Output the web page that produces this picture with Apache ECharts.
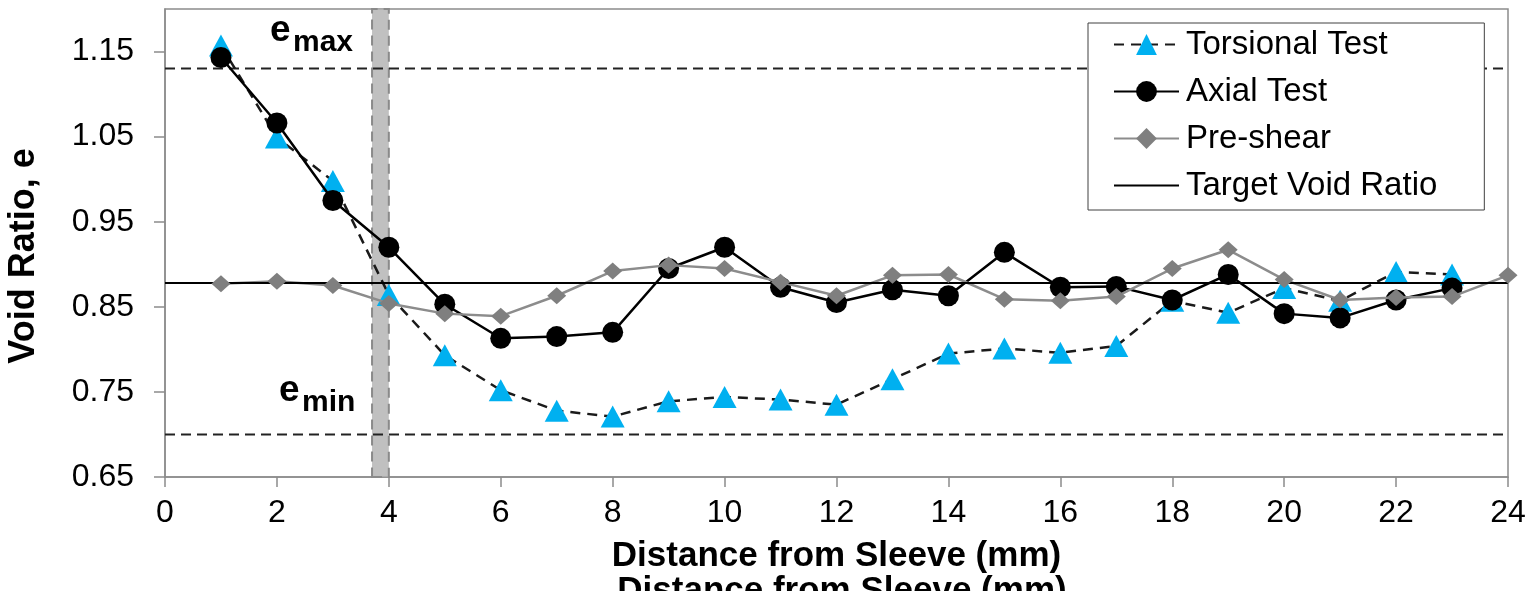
<!DOCTYPE html>
<html>
<head>
<meta charset="utf-8">
<script src="https://cdn.jsdelivr.net/npm/echarts@6/dist/echarts.min.js"></script>
<style>
html,body{margin:0;padding:0;background:#fff;}
#chart{width:1529px;height:591px;}
</style>
</head>
<body>
<div id="chart"></div>
<script>
// ---- data ----
const distance = [1,2,3,4,5,6,7,8,9,10,11,12,13,14,15,16,17,18,19,20,21,22,23];
const distancePre = [1,2,3,4,5,6,7,8,9,10,11,12,13,14,15,16,17,18,19,20,21,22,23,24];
const torsional = [1.157,1.049,0.998,0.864,0.793,0.752,0.728,0.721,0.739,0.744,0.741,0.735,0.765,0.795,0.801,0.796,0.804,0.857,0.843,0.872,0.857,0.891,0.888];
const axial = [1.143,1.066,0.975,0.920,0.853,0.813,0.815,0.820,0.895,0.920,0.873,0.855,0.870,0.863,0.914,0.873,0.874,0.858,0.888,0.842,0.837,0.858,0.872];
const preShear = [0.877,0.880,0.875,0.854,0.842,0.839,0.863,0.892,0.899,0.895,0.879,0.863,0.887,0.888,0.859,0.857,0.862,0.895,0.917,0.882,0.858,0.861,0.862,0.887];
const targetVoidRatio = 0.878;
const eMax = 1.13;
const eMin = 0.70;
const sleeveBand = [3.7, 4.0];
const xRange = [0, 24];
const seriesNames = ['Torsional Test','Axial Test','Pre-shear','Target Void Ratio'];
const xTitle = 'Distance from Sleeve (mm)';
const yTitle = 'Void Ratio, e';

const pair = (xs, ys) => xs.map((x, i) => [x, ys[i]]);
const FONT = '"Liberation Sans", Arial, sans-serif';

const chart = echarts.init(document.getElementById('chart'), null, {renderer:'canvas'});
chart.setOption({
  animation: false,
  backgroundColor: '#fff',
  textStyle: {fontFamily: FONT},
  grid: {left:165, right:21, top:9, bottom:114, show:true, borderColor:'#8c8c8c', borderWidth:1.5, backgroundColor:'transparent'},
  legend: {
    data: [
      {name: seriesNames[0]},
      {name: seriesNames[1]},
      {name: seriesNames[2]},
      {name: seriesNames[3], itemStyle: {opacity: 0}}
    ],
    orient: 'vertical',
    left: 1088, top: 23,
    padding: [5, 47, 8, 25],
    itemGap: 14,
    itemWidth: 65, itemHeight: 26,
    backgroundColor: '#fff',
    borderColor: '#404040', borderWidth: 1,
    textStyle: {fontSize: 33, color: '#000', fontFamily: FONT, padding: [0, 0, 0, 2]},
    z: 10
  },
  xAxis: {
    type: 'value', min: xRange[0], max: xRange[1], interval: 2,
    name: xTitle, nameLocation: 'middle', nameGap: 62,
    nameTextStyle: {fontSize: 35, fontWeight: 'bold', color: '#000', fontFamily: FONT},
    axisLine: {show:true, lineStyle:{color:'#8c8c8c', width:1.5}},
    axisTick: {show:true, length:10, lineStyle:{color:'#8c8c8c', width:1.5}},
    axisLabel: {fontSize: 32, color:'#000', margin: 20, fontFamily: FONT},
    splitLine: {show:false}
  },
  yAxis: {
    type: 'value', min: 0.65, max: 1.2, interval: 0.1,
    axisLine: {show:true, lineStyle:{color:'#8c8c8c', width:1.5}},
    axisTick: {show:true, length:11, lineStyle:{color:'#8c8c8c', width:1.5}},
    axisLabel: {fontSize: 32, color:'#000', margin: 31, showMaxLabel: false, fontFamily: FONT,
      formatter: v => v.toFixed(2)},
    splitLine: {show:false}
  },
  series: [
    {
      name: 'e_max', type: 'line', data: [[xRange[0], eMax],[xRange[1], eMax]],
      symbol: 'none', silent: true, z: 1,
      lineStyle: {color:'#222', width:2, type:[10,6]}
    },
    {
      name: 'e_min', type: 'line', data: [[xRange[0], eMin],[xRange[1], eMin]],
      symbol: 'none', silent: true, z: 1,
      lineStyle: {color:'#222', width:2, type:[10,6]}
    },
    {
      name: 'Torsional Test', type: 'line', data: pair(distance, torsional),
      symbol: 'triangle', symbolSize: [24, 22], z: 2,
      itemStyle: {color:'#00B0F0'},
      lineStyle: {color:'#1a1a1a', width:2.5, type:[10,7]}
    },
    {
      name: 'Axial Test', type: 'line', data: pair(distance, axial),
      symbol: 'circle', symbolSize: 21, z: 3,
      itemStyle: {color:'#000'},
      lineStyle: {color:'#000', width:2.5}
    },
    {
      name: 'Pre-shear', type: 'line', data: pair(distancePre, preShear),
      symbol: 'diamond', symbolSize: [19, 17], z: 4,
      itemStyle: {color:'#7f7f7f'},
      lineStyle: {color:'#8c8c8c', width:2.5}
    },
    {
      name: 'Target Void Ratio', type: 'line', data: [[xRange[0], targetVoidRatio],[xRange[1], targetVoidRatio]],
      symbol: 'none', z: 4,
      itemStyle: {color:'#000'},
      lineStyle: {color:'#000', width:2}
    },
    {
      name: 'band', type: 'line', data: [], z: 6, silent: true,
      markArea: {
        silent: true,
        itemStyle: {color:'rgba(176,176,176,0.8)', borderColor:'#8a8a8a', borderWidth:2, borderType:[10,6]},
        data: [[{xAxis: sleeveBand[0]}, {xAxis: sleeveBand[1]}]]
      }
    }
  ],
  graphic: [
    {type:'text', x:270, y:31, z:20, style:{text:'e', font:'bold 37px ' + FONT, fill:'#000', textVerticalAlign:'middle'}},
    {type:'text', x:293, y:43, z:20, style:{text:'max', font:'bold 30px ' + FONT, fill:'#000', textVerticalAlign:'middle'}},
    {type:'text', x:279, y:391, z:20, style:{text:'e', font:'bold 37px ' + FONT, fill:'#000', textVerticalAlign:'middle'}},
    {type:'text', x:302, y:403, z:20, style:{text:'min', font:'bold 30px ' + FONT, fill:'#000', textVerticalAlign:'middle'}},
    {type:'text', x:24, y:256, rotation: Math.PI/2, z:20, style:{text: yTitle, font:'bold 36px ' + FONT, fill:'#000', textAlign:'center', textVerticalAlign:'middle'}},
    {type:'text', x:842, y:591, z:20, style:{text: xTitle, font:'bold 35px ' + FONT, fill:'#000', textAlign:'center', textVerticalAlign:'middle'}}
  ]
});
</script>
</body>
</html>
